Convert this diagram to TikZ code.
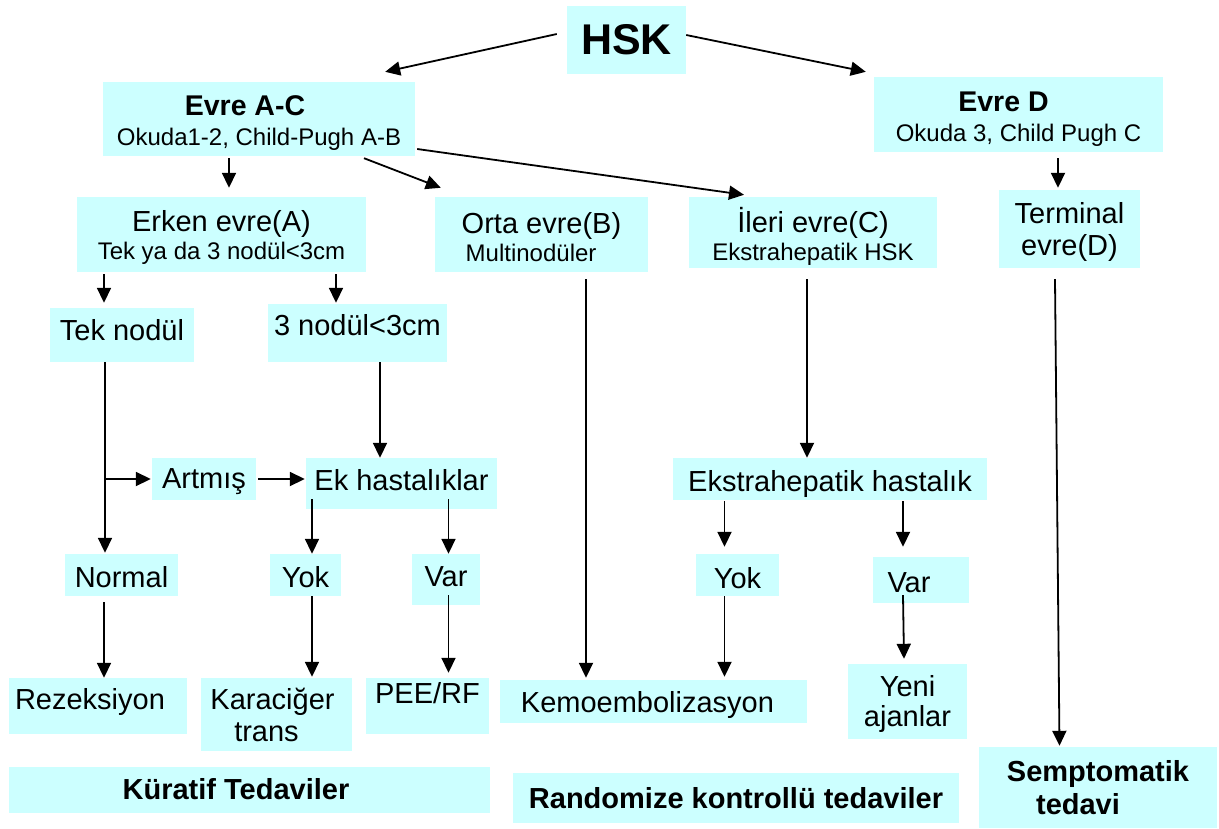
\documentclass[tikz,border=0pt]{standalone}
\usepackage{fontspec}
\setmainfont{Liberation Sans}
\usetikzlibrary{arrows.meta}
\definecolor{boxcyan}{RGB}{204,255,255}

\begin{document}
\begin{tikzpicture}[x=1pt, y=-1pt,
	box/.style={rectangle, fill=boxcyan, inner sep=0pt, align=center},
	bigtxt/.style={font=\fontsize{29}{32}\selectfont},
	twoline/.style={font=\fontsize{29}{28}\selectfont},
	smalltxt/.style={font=\fontsize{24}{30}\selectfont},
	boldtxt/.style={font=\bfseries\fontsize{29}{33}\selectfont},
	lift/.style={text depth=#1},
	sink/.style={text height=#1},
	link/.style={-{Triangle[length=15pt,width=14pt]}, line width=1.8pt}]
	\useasboundingbox (0,0) rectangle (1219,828);
	% Place nodes
	\node [box, font=\bfseries\fontsize{43}{48}\selectfont, minimum width=119pt, minimum height=68pt] (hsk) at (626.5,40) {HSK};
	\node [box, smalltxt, minimum width=312pt, minimum height=74pt] (evreac) at (259,119) {{\bfseries\fontsize{28.5}{32}\selectfont\rule{0pt}{27pt}Evre A-C\hspace*{28pt}}\\Okuda1-2, Child-Pugh A-B};
	\node [box, smalltxt, minimum width=289pt, minimum height=75pt] (evred) at (1018.5,114.5) {{\bfseries\fontsize{28.5}{32}\selectfont\rule{0pt}{29pt}Evre D\hspace*{30pt}}\\Okuda 3, Child Pugh C};
	
	\node [box, twoline, minimum width=289pt, minimum height=75pt] (erken) at (221.5,234.5) {\rule{0pt}{27.5pt}Erken evre(A)\\{\fontsize{24}{28}\selectfont Tek ya da 3 nodül<3cm}};
	\node [box, twoline, align=left, minimum width=213pt, minimum height=75pt] (orta) at (541.5,234.5) {\rule{0pt}{25.5pt}Orta evre(B)\\{\fontsize{24}{28}\selectfont \hspace*{4pt}Multinodüler}};
	\node [box, twoline, minimum width=248pt, minimum height=71pt] (ileri) at (813,232.5) {\rule{0pt}{32pt}İleri evre(C)\\{\fontsize{24}{28}\selectfont Ekstrahepatik HSK}};
	\node [box, bigtxt, minimum width=141pt, minimum height=78pt] (terminal) at (1069.5,229) {\rule{0pt}{27.5pt}Terminal\\evre(D)};
	
	\node [box, bigtxt, lift=10pt, minimum width=144pt, minimum height=54pt] (teknodul) at (122,335) {Tek nodül};
	\node [box, bigtxt, lift=16pt, minimum width=179pt, minimum height=58pt] (ucnodul) at (357.5,333) {3 nodül<3cm};
	\node [box, bigtxt, lift=0pt, minimum width=104pt, minimum height=42pt] (artmis) at (204,479) {Artmış};
	\node [box, bigtxt, lift=7pt, minimum width=191pt, minimum height=51pt] (ekhast) at (401.5,483.5) {Ek hastalıklar};
	\node [box, bigtxt, lift=0pt, sink=25pt, minimum width=314pt, minimum height=42pt] (ekstra) at (830,479) {Ekstrahepatik hastalık};
	
	\node [box, bigtxt, sink=25pt, minimum width=113pt, minimum height=42pt] (normal) at (121.5,575) {Normal};
	\node [box, bigtxt, sink=25pt, minimum width=71pt, minimum height=42pt] (yokl) at (305.5,575) {Yok};
	\node [box, bigtxt, lift=5pt, minimum width=68pt, minimum height=51pt] (varl) at (446,579.5) {Var};
	\node [box, bigtxt, sink=27pt, minimum width=83pt, minimum height=42pt] (yokr) at (737.5,575) {Yok};
	\node [box, bigtxt, sink=25pt, minimum width=96pt, minimum height=46pt] (varr) at (921,580) {Var\hspace*{24pt}};
	
	\node [box, bigtxt, lift=14pt, minimum width=178pt, minimum height=56pt] (rezek) at (98,706) {Rezeksiyon\hspace*{16pt}};
	\node [box, bigtxt, minimum width=151pt, minimum height=73pt] (karaciger) at (276.5,714.5) {Karaciğer\hspace*{8pt}\\trans\hspace*{20pt}};
	\node [box, bigtxt, lift=26pt, minimum width=123pt, minimum height=56pt] (pee) at (427.5,706) {PEE/RF};
	\node [box, bigtxt, lift=0pt, minimum width=307pt, minimum height=43pt] (kemo) at (653.5,701.5) {Kemoembolizasyon\hspace*{12pt}};
	\node [box, font=\fontsize{29}{30}\selectfont, minimum width=119pt, minimum height=75pt] (yeni) at (907.5,701.5) {\rule{0pt}{26pt}Yeni\\ajanlar};
	
	\node [box, boldtxt, minimum width=481pt, minimum height=46pt] (kuratif) at (249.5,789.5) {Küratif Tedaviler\hspace*{27pt}};
	\node [box, boldtxt, minimum width=446pt, minimum height=50pt] (random) at (736,798) {Randomize kontrollü tedaviler};
	\node [box, boldtxt, minimum width=238pt, minimum height=81pt] (semptom) at (1098,787.5) {Semptomatik\\tedavi\hspace*{40pt}};
	
	% Connectors
	\draw [link] ([xshift=-10pt,yshift=6pt]hsk.west) -- ([xshift=-30pt,yshift=10pt]evreac.north east);
	\draw [link] ([yshift=5pt]hsk.east) -- ([xshift=-8pt,yshift=5pt]evred.north west);
	\draw [link] ([xshift=-30pt,yshift=-2pt]evreac.south) -- ([xshift=7.5pt,yshift=9pt]erken.north);
	\draw [link] ([xshift=105pt,yshift=-2pt]evreac.south) -- ([xshift=6pt,yshift=9pt]orta.north west);
	\draw [link] ([xshift=2pt,yshift=-30pt]evreac.east) -- ([xshift=-69pt,yshift=2pt]ileri.north);
	\draw [link] ([xshift=39.5pt,yshift=-6pt]evred.south) -- ([xshift=-11.5pt,yshift=2pt]terminal.north);
	
	\draw [link] ([xshift=-117.5pt,yshift=-2pt]erken.south) -- ([xshift=-18pt,yshift=5pt]teknodul.north);
	\draw [link] ([xshift=114.5pt,yshift=-2pt]erken.south) -- ([xshift=-21.5pt,yshift=1pt]ucnodul.north);
	\draw [link] ([xshift=44.5pt,yshift=-7pt]orta.south) -- ([xshift=-67.5pt,yshift=2pt]kemo.north);
	\draw [link] ([xshift=-6pt,yshift=-11pt]ileri.south) -- ([xshift=-23pt]ekstra.north);
	\draw [link] ([xshift=-14.5pt,yshift=-11pt]terminal.south) -- ([xshift=-38.5pt,yshift=1pt]semptom.north);
	
	\draw [link] ([xshift=-17pt]teknodul.south) -- ([xshift=-16.5pt,yshift=1pt]normal.north);
	\draw [link] ([xshift=-17pt]teknodul.south |- artmis.west) -- ([xshift=-1pt]artmis.west);
	\draw [link] ([xshift=2pt]artmis.east) -- ([xshift=-1pt]artmis.east -| ekhast.west);
	\draw [link] ([xshift=22.5pt]ucnodul.south) -- ([xshift=-21.5pt]ekhast.north);
	\draw [link] ([xshift=-89.5pt,yshift=10pt]ekhast.south) -- ([xshift=6.5pt]yokl.north);
	\draw [link] ([xshift=47pt,yshift=10pt]ekhast.south) -- ([xshift=2.5pt]varl.north);
	\draw [link] ([xshift=-105.5pt,yshift=-1pt]ekstra.south) -- ([xshift=-13pt,yshift=7pt]yokr.north);
	\draw [link] ([xshift=73pt,yshift=-1pt]ekstra.south) -- ([xshift=-18pt,yshift=10pt]varr.north);
	
	\draw [link] ([xshift=-17.5pt,yshift=-6pt]normal.south) -- ([xshift=6pt]rezek.north);
	\draw [link] ([xshift=6.5pt]yokl.south) -- ([xshift=35.5pt,yshift=1pt]karaciger.north);
	\draw [link] ([xshift=2.5pt,yshift=10pt]varl.south) -- ([xshift=21pt,yshift=5pt]pee.north);
	\draw [link] ([xshift=-13pt]yokr.south) -- ([xshift=71pt,yshift=3pt]kemo.north);
	\draw [link] ([xshift=-18pt,yshift=8pt]varr.south) -- ([xshift=-3.5pt,yshift=5pt]yeni.north);
\end{tikzpicture}
\end{document}
